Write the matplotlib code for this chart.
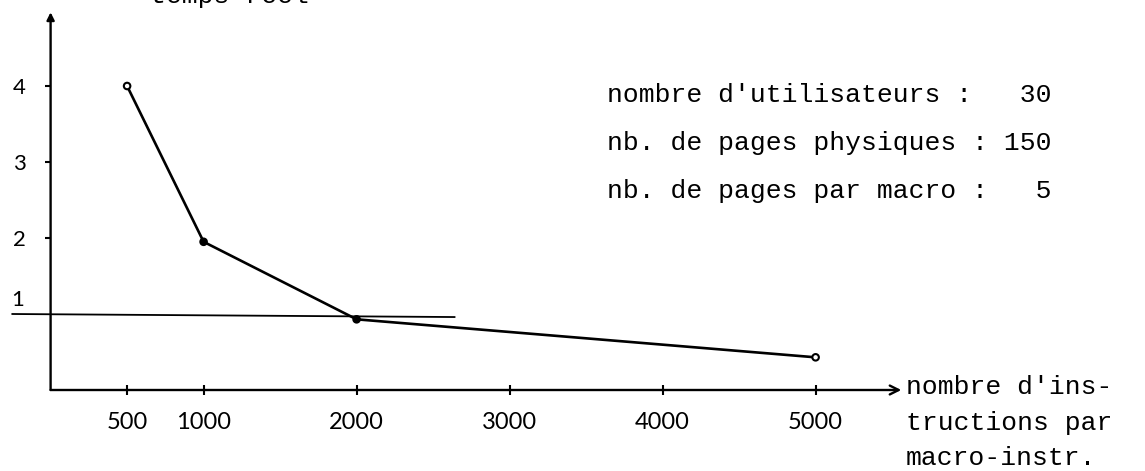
import matplotlib
matplotlib.use("Agg")
import matplotlib.pyplot as plt

# temps reel relatif en fonction de la taille des macro-instructions
instr_per_macro = [500, 1000, 2000, 5000]
temps_reel = [4.0, 1.95, 0.93, 0.43]
point_fill = ["white", "black", "black", "white"]

x_ticks = [500, 1000, 2000, 3000, 4000, 5000]
y_ticks = [2, 3, 4]

params = [
    "nombre d'utilisateurs :   30",
    "nb. de pages physiques : 150",
    "nb. de pages par macro :   5",
]
x_label_lines = ["nombre d'ins-", "tructions par", "macro-instr."]
y_label = "temps réel"

# ligne de reference (temps reel = 1)
ref_x = [-250, 2640]
ref_y = [1.0, 0.96]

W, H = 1145, 471
x0_px, y0_px = 50.6, 390.0     # pixel position of the origin
sx, sy = 0.153, 76.0           # pixels per instruction / per unit

fig = plt.figure(figsize=(W / 100, H / 100), dpi=100)
ax = fig.add_axes([0, 0, 1, 1])
ax.set_xlim(-x0_px / sx, (W - x0_px) / sx)
ax.set_ylim(-(H - y0_px) / sy, y0_px / sy)

for side in ["top", "right", "left", "bottom"]:
    ax.spines[side].set_visible(False)
ax.spines["left"].set_position(("data", 0))
ax.spines["bottom"].set_position(("data", 0))

# axes drawn as arrows
ax.annotate("", xy=(5560, 0), xytext=(0, 0),
            arrowprops=dict(arrowstyle="->", lw=1.7, color="black",
                            shrinkA=0, shrinkB=0, mutation_scale=16))
ax.annotate("", xy=(0, 4.97), xytext=(0, 0),
            arrowprops=dict(arrowstyle="-|>", lw=1.7, color="black",
                            shrinkA=0, shrinkB=0, mutation_scale=11))

ax.set_xticks(x_ticks)
ax.set_xticklabels([str(t) for t in x_ticks], family="Lato")
ax.set_yticks(y_ticks)
ax.set_yticklabels([str(t) for t in y_ticks], family="Lato")
ax.tick_params(axis="x", direction="inout", length=7, width=1.5,
               pad=12, labelsize=17)
ax.tick_params(axis="y", direction="out", length=4, width=1.5,
               pad=14, labelsize=16)
ax.text(-213, 1.18, "1", family="Lato", fontsize=16, ha="center", va="center")

# reference line and curve
ax.plot(ref_x, ref_y, color="black", lw=1.3)
ax.plot(instr_per_macro, temps_reel, color="black", lw=1.9, zorder=3)
ax.scatter(instr_per_macro, temps_reel, s=22, facecolors=point_fill,
           edgecolors="black", linewidths=1.5, zorder=4)

# parameters of the simulation
for i, line in enumerate(params):
    ax.text(3637, 3.88 - i * 0.63, line, family="Liberation Mono",
            fontsize=19, va="center", ha="left")

# x axis label, typed on three lines
for i, line in enumerate(x_label_lines):
    ax.text(5590, -0.05 - i * 0.47, line, family="Liberation Mono",
            fontsize=19, va="baseline", ha="left")

# y axis label, cut by the top of the page
fig.text(150 / W, 1 - 3 / H, y_label, family="Liberation Mono",
         fontsize=19, va="baseline", ha="left")

fig.savefig("out.png", dpi=100)
